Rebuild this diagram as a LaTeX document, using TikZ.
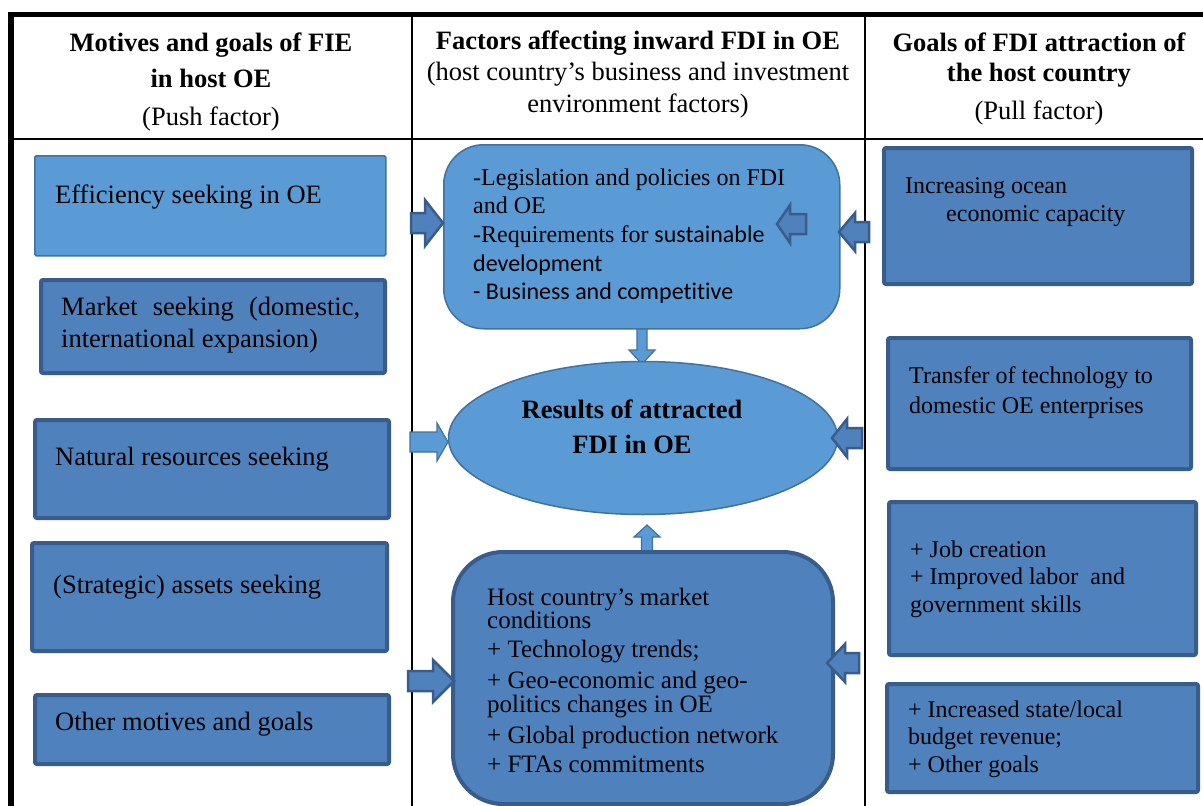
\documentclass[tikz,border=0pt]{standalone}
\usepackage{fontspec}
\setmainfont{Liberation Serif}
\newfontfamily\calib{Carlito}[Ligatures=NoCommon]
\usetikzlibrary{shapes.geometric}
\definecolor{lightfill}{HTML}{5B9BD5}
\definecolor{lightline}{HTML}{41719C}
\definecolor{darkfill}{HTML}{4F81BD}
\definecolor{darkline}{HTML}{385D8A}
\newcommand\clines[1]{\vtop{\halign{\hfil##\hfil\cr#1\crcr}}}
\newcommand\llines[1]{\vtop{\halign{##\hfil\cr#1\crcr}}}
% horizontal block arrow: style, x tail, x tip, y centre, shaft half, head half, x head base
\newcommand\harrow[7]{\path[#1] (#2,#4-#5) -- (#7,#4-#5) -- (#7,#4-#6) -- (#3,#4) -- (#7,#4+#6) -- (#7,#4+#5) -- (#2,#4+#5) -- cycle;}
% vertical block arrow: style, y tail, y tip, x centre, shaft half, head half, y head base
\newcommand\varrow[7]{\path[#1] (#4-#5,#2) -- (#4-#5,#7) -- (#4-#6,#7) -- (#4,#3) -- (#4+#6,#7) -- (#4+#5,#7) -- (#4+#5,#2) -- cycle;}
\begin{document}
\begin{tikzpicture}[x=1pt,y=-1pt,
  lightbox/.style={draw=lightline,fill=lightfill,line width=1.5pt,inner sep=0pt,anchor=north west,rounded corners=1.5pt},
  darkbox/.style={draw=darkline,fill=darkfill,line width=4pt,inner sep=0pt,anchor=north west,rounded corners=2pt},
  darkarrow/.style={draw=darkline,fill=darkfill,line width=2.5pt},
  lightarrow/.style={draw=lightline,fill=lightfill,line width=1.2pt},
  txt/.style={inner sep=0pt,anchor=base west,text=black},
  ctxt/.style={inner sep=0pt,anchor=base,text=black},
  big/.style={font=\fontsize{26.5}{36}\selectfont},
  mid/.style={font=\fontsize{24}{28.7}\selectfont},
  grid/.style={draw=black}]
\useasboundingbox (0,0) rectangle (1203,806);
\fill[white] (0,0) rectangle (1203,806);
% table
\draw[grid,line width=5pt] (8.5,14) -- (1203,14);
\draw[grid,line width=5.5pt] (11,11.5) -- (11,806);
\draw[grid,line width=2pt] (11,138.5) -- (1203,138.5);
\draw[grid,line width=2pt] (412,14) -- (412,806);
\draw[grid,line width=2pt] (865,14) -- (865,806);
% headers
\node[ctxt,big] (h1) at (211,51) {\clines{\bfseries Motives and goals of FIE\cr\bfseries in host OE\cr\noalign{\vskip2pt}(Push factor)\cr}};
\node[ctxt,font=\fontsize{26.5}{31.5}\selectfont] (h2) at (638,49) {\clines{\bfseries Factors affecting inward FDI in OE\cr (host country's business and investment\cr environment factors)\cr}};
\node[ctxt,font=\fontsize{26.5}{30.5}\selectfont] (h3) at (1039,51) {\clines{\bfseries Goals of FDI attraction of\cr\bfseries the host country\cr\noalign{\vskip7pt}(Pull factor)\cr}};
% left column
\node[lightbox,minimum width=351pt,minimum height=100pt] (eff) at (34,155) {};
\node[txt,big] (efft) at (55,203) {Efficiency seeking in OE};
\node[darkbox,minimum width=344pt,minimum height=93pt] (mkt) at (39,278) {};
\node[txt,font=\fontsize{26.5}{32.5}\selectfont] (mktt) at (61,315) {\llines{\makebox[299pt][s]{Market seeking (domestic,}\cr international expansion)\cr}};
\node[darkbox,minimum width=354pt,minimum height=98pt] (nat) at (33,418) {};
\node[txt,big] (natt) at (55,465) {Natural resources seeking};
\node[darkbox,minimum width=355pt,minimum height=108pt] (str) at (30,541) {};
\node[txt,big] (strt) at (53,593) {(Strategic) assets seeking};
\node[darkbox,minimum width=354pt,minimum height=69pt] (oth) at (33,693) {};
\node[txt,big] (otht) at (55,730) {Other motives and goals};
% middle column
\node[lightbox,rounded corners=40pt,minimum width=396pt,minimum height=184pt] (leg) at (443,144) {};
\node[txt,mid] (legt) at (473,185) {\llines{-Legislation and policies on FDI\cr and OE\cr -Requirements for {\calib sustainable}\cr {\calib development}\cr {\calib - Business and competitive}\cr}};
\varrow{lightarrow}{329}{364}{642}{5}{13}{350}
\node[ellipse,draw=lightline,fill=lightfill,line width=1.5pt,minimum width=389pt,minimum height=153pt,inner sep=0pt] (res) at (643,438) {};
\node[ctxt,font=\fontsize{26.5}{35}\selectfont] (rest) at (632,418) {\clines{\bfseries Results of attracted\cr\bfseries FDI in OE\cr}};
\varrow{lightarrow}{553}{525}{647}{5.5}{13}{537}
\node[darkbox,rounded corners=50pt,minimum width=380pt,minimum height=252pt] (mkc) at (451,550) {};
\node[txt,font=\fontsize{25}{22}\selectfont] (mkct) at (487,605) {\llines{Host country’s market\cr conditions\cr\noalign{\vskip7pt}+ Technology trends;\cr\noalign{\vskip7pt}+ Geo-economic and geo-\cr politics changes in OE\cr\noalign{\vskip8pt}+ Global production network\cr\noalign{\vskip7pt}+ FTAs commitments\cr}};
% right column
\node[darkbox,minimum width=308pt,minimum height=136pt] (r1) at (882,146) {};
\node[txt,mid] (r1t) at (905,193) {\llines{Increasing ocean\cr\kern41pt economic capacity\cr}};
\node[darkbox,minimum width=303pt,minimum height=131pt] (r2) at (886,336) {};
\node[txt,font=\fontsize{24}{30}\selectfont] (r2t) at (909,383) {\llines{Transfer of technology to\cr domestic OE enterprises\cr}};
\node[darkbox,minimum width=307pt,minimum height=153pt] (r3) at (887,500) {};
\node[txt,font=\fontsize{24}{27.5}\selectfont] (r3t) at (910,557) {\llines{+ Job creation\cr + Improved labor\ \ and\cr government skills\cr}};
\node[darkbox,minimum width=311pt,minimum height=108pt] (r4) at (885,682) {};
\node[txt,font=\fontsize{24}{27.5}\selectfont] (r4t) at (908,717) {\llines{+ Increased state/local\cr budget revenue;\cr + Other goals\cr}};
% block arrows
\harrow{darkarrow}{411}{443}{223}{10}{23}{425}
\harrow{lightarrow}{410}{448}{442}{10}{19}{437}
\harrow{darkarrow}{408}{454}{681}{10}{21}{433}
\harrow{darkarrow}{806}{777}{224}{10}{19}{790}
\harrow{darkarrow}{869}{839}{232}{10}{19}{855}
\harrow{darkarrow}{862}{832}{438}{10}{19}{847}
\harrow{darkarrow}{859}{827}{663}{10}{19}{845}
\end{tikzpicture}
\end{document}
